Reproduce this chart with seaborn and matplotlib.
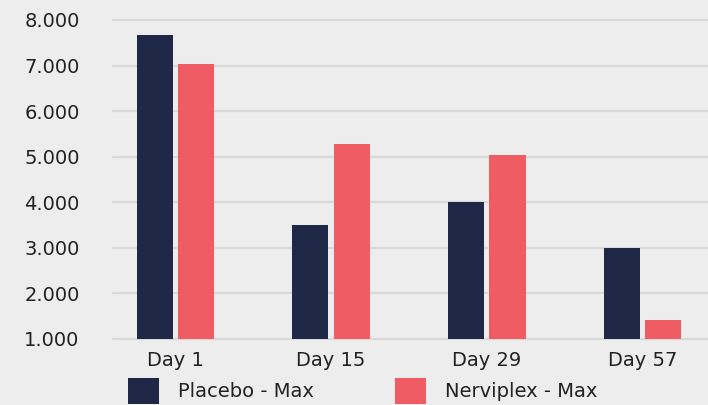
import pandas as pd
import matplotlib.pyplot as plt
import seaborn as sns
from matplotlib.patches import Patch
from matplotlib.ticker import FuncFormatter, MultipleLocator

# data
days = ['Day 1', 'Day 15', 'Day 29', 'Day 57']
placebo = [7670, 3500, 4000, 3000]
nerviplex = [7030, 5280, 5040, 1420]
series = ['Placebo - Max', 'Nerviplex - Max']
colors = ['#1f2846', '#f05c64']

df = pd.DataFrame({
    'day': days * 2,
    'value': placebo + nerviplex,
    'group': [series[0]] * len(days) + [series[1]] * len(days),
})

sns.set_theme(style='whitegrid')
plt.rcParams['font.family'] = ['DejaVu Sans']
bg = '#ededed'
txt = '#222222'

fig = plt.figure(figsize=(7.08, 4.05), dpi=100, facecolor=bg)
ax = fig.add_axes([113 / 708, 1 - 339 / 405, 1 - 113 / 708, (339 - 20) / 405])
ax.set_facecolor(bg)

sns.barplot(data=df, x='day', y='value', hue='group', palette=colors,
            width=0.533, gap=0.13, dodge=True, saturation=1, legend=False,
            linewidth=0, ax=ax)

ax.set_ylim(1000, 8000)
ax.set_xlim(-0.401, 3.421)
ax.yaxis.set_major_locator(MultipleLocator(1000))
ax.yaxis.set_major_formatter(FuncFormatter(lambda v, p: f"{v:,.0f}".replace(',', '.')))
ax.grid(axis='y', color='#d9d9d9', linewidth=1.6)
ax.grid(axis='x', visible=False)
ax.set_axisbelow(True)
for gl in ax.get_ygridlines():
    gl.set_clip_on(False)
for s in ax.spines.values():
    s.set_visible(False)
ax.set_xlabel('')
ax.set_ylabel('')
ax.tick_params(axis='y', length=0, pad=24, labelsize=14, labelcolor=txt)
ax.tick_params(axis='x', length=0, pad=9, labelsize=14, labelcolor=txt)

handles = [Patch(facecolor=c, edgecolor='none', label=l) for c, l in zip(colors, series)]
fig.legend(handles=handles, loc='upper left', bbox_to_anchor=(128 / 708, 1 - 378 / 405),
           ncol=2, frameon=False, fontsize=14, labelcolor=txt, borderpad=0,
           borderaxespad=0, handlelength=1.6, handleheight=1.7, handletextpad=0.95,
           columnspacing=4.2)

fig.savefig('out.png', dpi=100, facecolor=bg)
